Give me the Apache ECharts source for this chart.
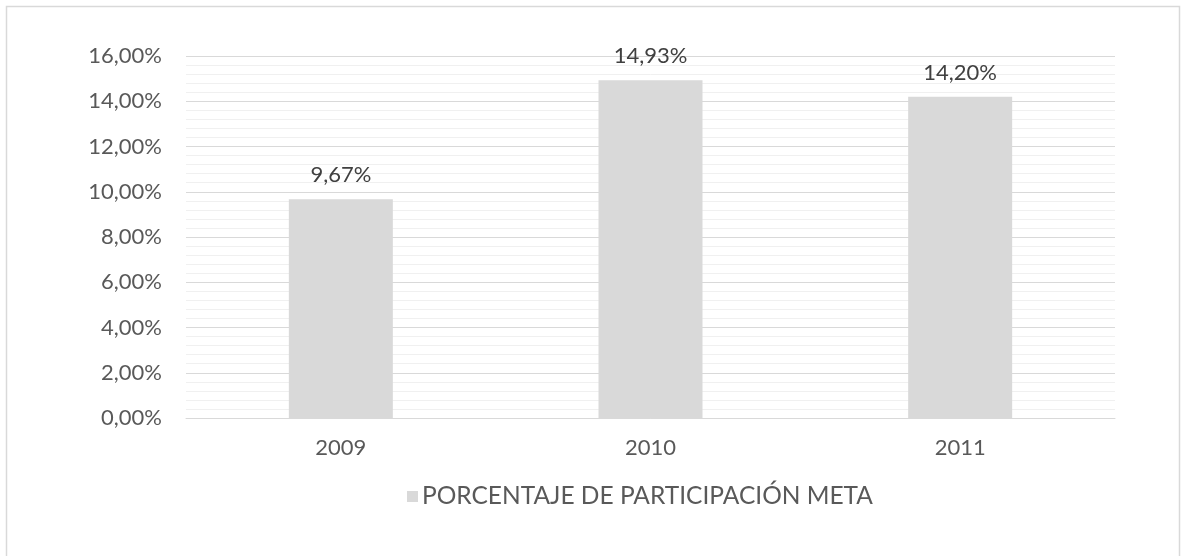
<!DOCTYPE html>
<html>
<head>
<meta charset="utf-8">
<script src="https://cdn.jsdelivr.net/npm/echarts@6/dist/echarts.min.js"></script>
<style>
  html, body { margin: 0; padding: 0; background: #fff; }
  #chart { width: 1181px; height: 556px; }
</style>
</head>
<body>
<div id="chart"></div>
<script>
// datos del gráfico
var years = ['2009', '2010', '2011'];
var participacion = [9.67, 14.93, 14.20];
var serieNombre = 'PORCENTAJE DE PARTICIPACIÓN META';

// formato con coma decimal
function pct(v) {
  return v.toFixed(2).replace('.', ',') + '%';
}

var chart = echarts.init(document.getElementById('chart'));
chart.setOption({
  backgroundColor: '#fff',
  textStyle: { fontFamily: 'Lato' },
  graphic: [{
    type: 'rect',
    shape: { x: 6.5, y: 6.5, width: 1173, height: 570 },
    style: { fill: 'none', stroke: '#d9d9d9', lineWidth: 1.5 },
    silent: true
  }],
  grid: { left: 186, right: 66, top: 56, bottom: 138 },
  legend: {
    bottom: 42,
    left: 402,
    itemWidth: 11,
    itemHeight: 11,
    itemGap: 6,
    icon: 'rect',
    textStyle: { color: '#595959', fontSize: 24.5, fontFamily: 'Lato', padding: [0, 0, 0, -1] },
    data: [serieNombre]
  },
  xAxis: {
    type: 'category',
    data: years,
    axisLine: { lineStyle: { color: '#d9d9d9' } },
    axisTick: { show: false },
    axisLabel: { color: '#595959', fontSize: 22, margin: 19 }
  },
  yAxis: {
    type: 'value',
    min: 0,
    max: 16,
    interval: 2,
    axisLine: { show: false },
    axisTick: { show: false },
    axisLabel: { color: '#595959', fontSize: 22, margin: 24, formatter: pct },
    splitLine: { lineStyle: { color: '#d9d9d9', width: 1 } },
    minorTick: { show: false, splitNumber: 5 },
    minorSplitLine: { show: true, lineStyle: { color: '#f0f0f0', width: 1 } }
  },
  series: [{
    name: serieNombre,
    type: 'bar',
    data: participacion,
    barWidth: 104,
    itemStyle: { color: '#d9d9d9' },
    label: {
      show: true,
      position: 'top',
      distance: 13,
      color: '#404040',
      fontSize: 22,
      formatter: function (p) { return pct(p.value); }
    }
  }]
});
</script>
</body>
</html>
